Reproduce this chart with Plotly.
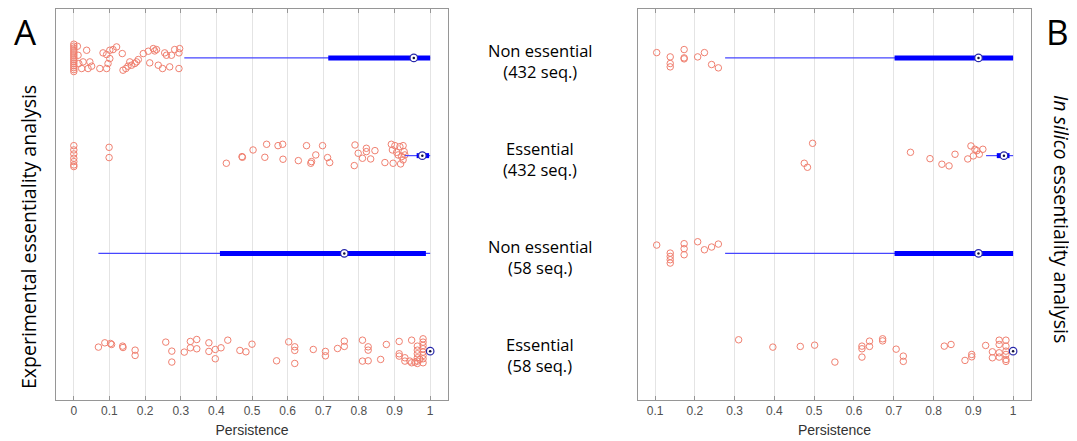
import plotly.graph_objects as go

# ---------------- data ----------------
row_labels = ["Non essential<br>(432 seq.)", "Essential<br>(432 seq.)",
              "Non essential<br>(58 seq.)", "Essential<br>(58 seq.)"]
rows = [1, 2, 3, 4]
tick_vals = [0, 0.1, 0.2, 0.3, 0.4, 0.5, 0.6, 0.7, 0.8, 0.9, 1]
tick_text = ["0", "0.1", "0.2", "0.3", "0.4", "0.5", "0.6", "0.7", "0.8", "0.9", "1"]

# box statistics per row: lower whisker, q1, median, q3, upper whisker
A_wlo = [0.31, 0.929, 0.069, 1.0]
A_q1 = [0.714, 0.962, 0.41, 1.0]
A_med = [0.954, 0.978, 0.759, 1.0]
A_q3 = [1.0, 0.997, 0.988, 1.0]
A_whi = [1.0, 1.0, 1.0, 1.0]

B_wlo = [0.276, 0.932, 0.276, 1.0]
B_q1 = [0.702, 0.959, 0.702, 1.0]
B_med = [0.913, 0.977, 0.913, 1.0]
B_q3 = [1.0, 0.991, 1.0, 1.0]
B_whi = [1.0, 1.0, 1.0, 1.0]

# outliers (value, vertical jitter)
A1_x = [0.0]*15 + [0.010, 0.036, 0.012, 0.014, 0.026, 0.045, 0.022, 0.040, 0.050, 0.073, 0.082, 0.092,
        0.101, 0.110, 0.120, 0.101, 0.096, 0.092, 0.136, 0.138, 0.146, 0.152, 0.157, 0.162, 0.171,
        0.176, 0.181, 0.195, 0.209, 0.213, 0.223, 0.227, 0.232, 0.237, 0.249, 0.255, 0.260, 0.269,
        0.274, 0.283, 0.295, 0.297, 0.295]
A1_j = [-0.14, -0.12, -0.10, -0.08, -0.06, -0.04, -0.02, 0.0, 0.02, 0.04, 0.06, 0.08, 0.10, 0.12, 0.14,
        -0.119, -0.078, -0.027, 0.058, 0.041, 0.041, 0.109, 0.109, 0.085, 0.109, -0.051, -0.034,
        -0.078, -0.085, -0.112, 0.007, 0.058, 0.109, -0.044, 0.126, 0.109, 0.085, 0.041, 0.075, 0.058,
        0.041, 0.017, -0.044, -0.068, 0.051, -0.095, -0.071, -0.085, 0.075, 0.109, -0.051, -0.027, 0.092,
        -0.027, -0.085, 0.109, -0.095, -0.051]

A2_x = [0, 0, 0, 0, 0, 0, 0, 0.099, 0.099, 0.428, 0.472, 0.473, 0.503, 0.536, 0.541, 0.573, 0.586,
        0.587, 0.630, 0.653, 0.667, 0.665, 0.679, 0.698, 0.712, 0.718, 0.787, 0.789, 0.798, 0.810,
        0.821, 0.821, 0.833, 0.845, 0.873, 0.891, 0.894, 0.896, 0.901, 0.906, 0.910, 0.915, 0.917,
        0.920, 0.924, 0.924, 0.927, 0.929]
A2_j = [-0.102, -0.058, -0.017, 0.027, 0.061, 0.095, 0.112, -0.085, 0.020, 0.078, 0.010, 0.017,
        -0.058, 0.017, -0.116, -0.102, -0.116, 0.037, 0.051, -0.102, 0.061, 0.078, -0.007, -0.102,
        0.020, 0.071, 0.102, -0.109, -0.024, 0.027, -0.075, -0.041, 0.034, -0.051, 0.071, -0.116,
        -0.058, 0.078, -0.102, -0.034, -0.007, -0.092, 0.085, 0.010, -0.102, 0.044, -0.041, -0.007]

A3_x = []
A3_j = []

A4_x = [0.069, 0.087, 0.103, 0.106, 0.137, 0.138, 0.172, 0.172, 0.258, 0.275, 0.275, 0.310, 0.327,
        0.327, 0.345, 0.345, 0.379, 0.379, 0.397, 0.397, 0.413, 0.432, 0.466, 0.483, 0.500, 0.569,
        0.603, 0.620, 0.620, 0.620, 0.672, 0.706, 0.706, 0.740, 0.759, 0.759, 0.810, 0.810, 0.826,
        0.826, 0.826, 0.861, 0.877, 0.913, 0.913, 0.913, 0.929, 0.929, 0.948, 0.948, 0.964, 0.964,
        0.964, 0.964, 0.964, 0.964, 0.980, 0.980, 0.980, 0.980, 0.980, 0.980, 0.980, 0.980, 0.971,
        0.943, 0.957]
A4_j = [-0.041, -0.085, -0.078, -0.068, -0.051, -0.037, -0.010, 0.044, -0.092, 0.000, 0.112, 0.010,
        -0.099, -0.034, -0.119, -0.024, -0.085, 0.003, -0.017, 0.078, -0.034, -0.112, -0.007, 0.007,
        -0.071, 0.099, -0.095, -0.044, -0.007, 0.126, -0.017, 0.003, 0.048, -0.027, -0.102, -0.048,
        -0.112, 0.102, -0.044, -0.010, 0.099, 0.085, -0.068, -0.099, 0.027, 0.051, 0.068, 0.102,
        -0.112, 0.119, -0.051, -0.010, 0.027, 0.068, 0.102, 0.126, -0.126, -0.092, -0.058, -0.024,
        0.010, 0.044, 0.078, 0.119, 0.085, 0.102, 0.112]

B1_x = [0.104, 0.138, 0.138, 0.138, 0.173, 0.173, 0.173, 0.207, 0.224, 0.242, 0.259]
B1_j = [-0.054, -0.010, 0.058, 0.092, -0.085, 0.000, 0.010, -0.010, -0.054, 0.068, 0.102]

B2_x = [0.496, 0.475, 0.483, 0.742, 0.791, 0.821, 0.839, 0.854, 0.886, 0.894, 0.900, 0.904, 0.909,
        0.915, 0.924]
B2_j = [-0.126, 0.078, 0.119, -0.034, 0.031, 0.088, 0.105, -0.014, 0.034, -0.099, 0.003, -0.065,
        -0.051, -0.014, -0.065]

B3_x = [0.104, 0.138, 0.138, 0.138, 0.138, 0.173, 0.173, 0.173, 0.207, 0.224, 0.242, 0.259]
B3_j = [-0.085, -0.003, 0.031, 0.065, 0.099, -0.099, -0.048, 0.014, -0.119, -0.037, -0.065, -0.095]

B4_x = [0.310, 0.396, 0.465, 0.501, 0.552, 0.620, 0.620, 0.620, 0.639, 0.639, 0.672, 0.672, 0.706,
        0.724, 0.724, 0.827, 0.844, 0.879, 0.896, 0.896, 0.931, 0.948, 0.948, 0.965, 0.965, 0.965,
        0.965, 0.982, 0.982, 0.982, 0.982, 0.982, 0.982]
B4_j = [-0.116, -0.041, -0.048, -0.061, 0.112, -0.051, -0.024, 0.061, -0.102, -0.048, -0.126,
        -0.105, -0.020, 0.051, 0.105, -0.051, -0.068, 0.095, 0.034, 0.058, -0.058, 0.007, 0.068,
        -0.112, -0.068, 0.017, 0.061, -0.112, -0.051, 0.000, 0.034, 0.085, 0.105]

# ---------------- styles ----------------
OUT_COLOR = "rgb(240,128,112)"
BOX_COLOR = "rgb(0,0,255)"
WHISK_COLOR = "rgb(70,70,255)"
FRAME = "rgb(150,150,150)"
GRID = "rgb(228,228,228)"

# page body has an 8px default margin: figure is offset by (8, 8)
OFF = 8
W, H = 1077 - OFF, 441 - OFF


def px(X):
    return (X - OFF) / W


def py(Y):
    return 1 - (Y - OFF) / H


fig = go.Figure()

panels = [
    ("x", "y", A_wlo, A_q1, A_med, A_q3, A_whi, [(A1_x, A1_j), (A2_x, A2_j), (A3_x, A3_j), (A4_x, A4_j)]),
    ("x2", "y2", B_wlo, B_q1, B_med, B_q3, B_whi, [(B1_x, B1_j), (B2_x, B2_j), (B3_x, B3_j), (B4_x, B4_j)]),
]

for xa, ya, wlo, q1, med, q3, whi, outs in panels:
    for i, r in enumerate(rows):
        ox, oj = outs[i]
        if ox:
            fig.add_trace(go.Scatter(x=ox, y=[r + j for j in oj], mode="markers", xaxis=xa, yaxis=ya,
                                     marker=dict(symbol="circle-open", size=6.5, color=OUT_COLOR,
                                                 line=dict(width=1)),
                                     showlegend=False, hoverinfo="x"))
        if wlo[i] < whi[i]:
            fig.add_trace(go.Scatter(x=[wlo[i], whi[i]], y=[r, r], mode="lines", xaxis=xa, yaxis=ya,
                                     line=dict(color=WHISK_COLOR, width=1.2), showlegend=False))
        if q1[i] < q3[i]:
            fig.add_trace(go.Scatter(x=[q1[i], q3[i]], y=[r, r], mode="lines", xaxis=xa, yaxis=ya,
                                     line=dict(color=BOX_COLOR, width=5), showlegend=False))
        fig.add_trace(go.Scatter(x=[med[i]], y=[r], mode="markers", xaxis=xa, yaxis=ya,
                                 marker=dict(symbol="circle", size=7.5, color="white",
                                             line=dict(color="rgb(40,40,170)", width=1.2)),
                                 showlegend=False))
        fig.add_trace(go.Scatter(x=[med[i]], y=[r], mode="markers", xaxis=xa, yaxis=ya,
                                 marker=dict(symbol="circle", size=2.5, color="rgb(20,20,60)"),
                                 showlegend=False))

axis_common = dict(tickvals=tick_vals, ticktext=tick_text, ticks="inside", ticklen=4,
                   tickcolor=FRAME, showline=True, linecolor=FRAME, linewidth=1, mirror="ticks",
                   showgrid=True, gridcolor=GRID, gridwidth=1, zeroline=False,
                   tickfont=dict(family="Liberation Sans", size=12, color="rgb(80,80,80)"),
                   title=dict(text="Persistence", standoff=7,
                              font=dict(family="Liberation Sans", size=14, color="rgb(50,50,50)")))
yaxis_common = dict(range=[4.5, 0.5], showticklabels=False, ticks="", showgrid=False, zeroline=False,
                    showline=True, linecolor=FRAME, linewidth=1, mirror=True)

fig.update_layout(
    width=W, height=H,
    margin=dict(l=0, r=0, t=0, b=0),
    paper_bgcolor="white", plot_bgcolor="white",
    xaxis=dict(domain=[px(56), px(448)], range=[-0.05, 1.05], anchor="y", **axis_common),
    xaxis2=dict(domain=[px(638), px(1031)], range=[0.057, 1.045], anchor="y2", **axis_common),
    yaxis=dict(domain=[py(400), py(9)], anchor="x", **yaxis_common),
    yaxis2=dict(domain=[py(400), py(9)], anchor="x2", **yaxis_common),
)

label_font = dict(family="Open Sans", size=16.5, color="black")
for r, lab in zip(rows, row_labels):
    fig.add_annotation(x=px(540), xref="paper", y=r + 0.035, yref="y", text=lab, showarrow=False,
                       font=label_font, align="center", xanchor="center", yanchor="middle")

fig.add_annotation(x=px(25), xref="paper", y=py(32), yref="paper", text="A", showarrow=False,
                   font=dict(family="Open Sans", size=35, color="black"),
                   xanchor="center", yanchor="middle")
fig.add_annotation(x=px(1057), xref="paper", y=py(32), yref="paper", text="B", showarrow=False,
                   font=dict(family="Open Sans", size=35, color="black"),
                   xanchor="center", yanchor="middle")
fig.add_annotation(x=px(28), xref="paper", y=py(237), yref="paper",
                   text="Experimental essentiality analysis", textangle=-90, showarrow=False,
                   font=dict(family="Open Sans", size=19.5, color="black"),
                   xanchor="center", yanchor="middle")
fig.add_annotation(x=px(1062), xref="paper", y=py(219), yref="paper",
                   text="<i>In silico</i> essentiality analysis", textangle=90, showarrow=False,
                   font=dict(family="Open Sans", size=19.5, color="black"),
                   xanchor="center", yanchor="middle")

fig.write_html("out.html")
